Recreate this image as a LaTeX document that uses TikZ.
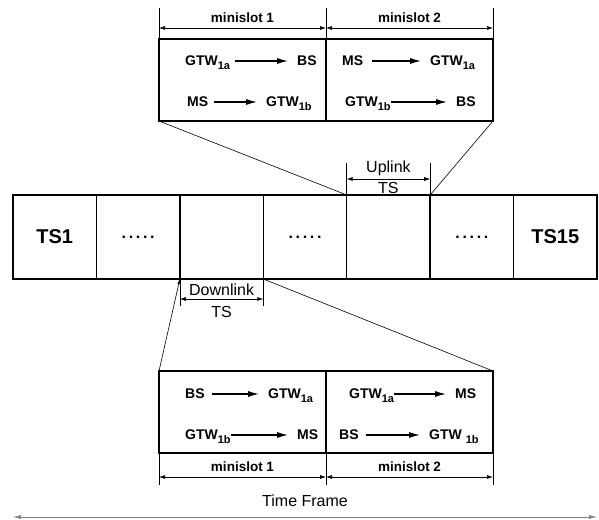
\documentclass[tikz,border=0pt]{standalone}
\usepackage{fontspec}
\setmainfont{Liberation Sans}
\usetikzlibrary{arrows.meta}
\newcommand\lowtxt[1]{\raisebox{-3.5pt}{\fontsize{11}{12}\selectfont #1}}
\newcommand\tsname[1]{{\bfseries\fontsize{20}{22}\selectfont #1}}
\newcommand\tsdots{{\bfseries .\,.\,.\,.\,.}}
\begin{document}
\begin{tikzpicture}[x=1pt, y=1pt,
    slot/.style={draw, line width=1.5pt, outer sep=0pt, inner sep=0pt, minimum width=83.43pt, minimum height=84pt, font=\fontsize{16}{18}\selectfont},
    mini/.style={draw, line width=1.5pt, outer sep=0pt, inner sep=0pt, minimum width=167pt, minimum height=82pt},
    word/.style={anchor=base west, inner sep=0pt, text height=10pt, text depth=0pt, font=\bfseries\fontsize{14}{16}\selectfont},
    flow/.style={line width=1.2pt, -{Latex[length=11pt,width=6pt]}, shorten >=9pt},
    dim/.style={line width=0.6pt, {Latex[length=6pt,width=4pt]}-{Latex[length=6pt,width=4pt]}},
    ext/.style={line width=0.6pt},
    lbl/.style={inner sep=0pt, font=\fontsize{16}{18}\selectfont},
    mlbl/.style={inner sep=0pt, font=\bfseries\fontsize{13.5}{15}\selectfont}]
    \useasboundingbox (0,0) rectangle (599,519);
    \foreach \i/\t in {1/\tsname{TS1},2/\tsdots,3/,4/\tsdots,5/,6/\tsdots,7/\tsname{TS15}}
        \node[slot] (ts\i) at ({13+83.43*(\i-0.5)},282) {\t};
    \node[mini] (upm1) at (242.5,439) {};
    \node[mini] (upm2) at (409.5,439) {};
    \node[mini] (dnm1) at (242.5,107) {};
    \node[mini] (dnm2) at (409.5,107) {};
    \node[word] (ua1) at (185,453) {GTW\lowtxt{1a}};
    \node[word] (ub1) at (297,453) {BS};
    \node[word] (uc1) at (187,412) {MS};
    \node[word] (ud1) at (266,412) {GTW\lowtxt{1b}};
    \node[word] (ua2) at (342,453) {MS};
    \node[word] (ub2) at (430,453) {GTW\lowtxt{1a}};
    \node[word] (uc2) at (345,412) {GTW\lowtxt{1b}};
    \node[word] (ud2) at (456,412) {BS};
    \node[word] (da1) at (185,120) {BS};
    \node[word] (db1) at (268,120) {GTW\lowtxt{1a}};
    \node[word] (dc1) at (185,79) {GTW\lowtxt{1b}};
    \node[word] (dd1) at (297,79) {MS};
    \node[word] (da2) at (349,120) {GTW\lowtxt{1a}};
    \node[word] (db2) at (455,120) {MS};
    \node[word] (dc2) at (339,79) {BS};
    \node[word] (dd2) at (429,79) {GTW \lowtxt{1b}};
    \foreach \a/\b/\s in {ua1/ub1/5,uc1/ud1/6,ua2/ub2/9,uc2/ud2/0,da1/db1/7,dc1/dd1/0,da2/db2/0,dc2/dd2/7}
        \draw[flow, shorten <=\s pt] (\a) -- (\b);
    \draw[ext] (upm1.south west) -- (ts5.north west);
    \draw[ext] (upm2.south east) -- (ts5.north east);
    \draw[ext, -{Latex[length=5pt,width=3pt]}] (dnm1.north west) -- (ts3.south west);
    \draw[ext] (ts3.south east) -- (dnm2.north east);
    \foreach \n in {upm1.north west,upm1.north east,upm2.north east}
        \draw[ext] (\n) -- ++(0,31);
    \draw[dim] ([yshift=11pt]upm1.north west) -- node[mlbl, above=5pt] {minislot 1} ([yshift=11pt]upm1.north east);
    \draw[dim] ([yshift=11pt]upm2.north west) -- node[mlbl, above=5pt] {minislot 2} ([yshift=11pt]upm2.north east);
    \foreach \n in {dnm1.south west,dnm1.south east,dnm2.south east}
        \draw[ext] (\n) -- ++(0,-32);
    \draw[dim] ([yshift=-24pt]dnm1.south west) -- node[mlbl, above=5pt] {minislot 1} ([yshift=-24pt]dnm1.south east);
    \draw[dim] ([yshift=-24pt]dnm2.south west) -- node[mlbl, above=5pt] {minislot 2} ([yshift=-24pt]dnm2.south east);
    \foreach \n in {ts5.north west,ts5.north east}
        \draw[ext] (\n) -- ++(0,32);
    \draw[dim] ([yshift=16pt]ts5.north west) -- node[lbl, above=3pt] {Uplink} node[lbl, below=3pt] {TS} ([yshift=16pt]ts5.north east);
    \foreach \n in {ts3.south west,ts3.south east}
        \draw[ext] (\n) -- ++(0,-27);
    \draw[dim] ([yshift=-20pt]ts3.south west) -- node[lbl, above=3pt] {Downlink} node[lbl, below=7pt] {TS} ([yshift=-20pt]ts3.south east);
    \coordinate (tfl) at (13,2);
    \coordinate (tfr) at (597,2);
    \draw[dim, draw=gray, {Latex[length=8pt,width=4pt]}-{Latex[length=8pt,width=4pt]}] (tfl) -- node[lbl, above=10pt, text=black] {Time Frame} (tfr);
\end{tikzpicture}
\end{document}
